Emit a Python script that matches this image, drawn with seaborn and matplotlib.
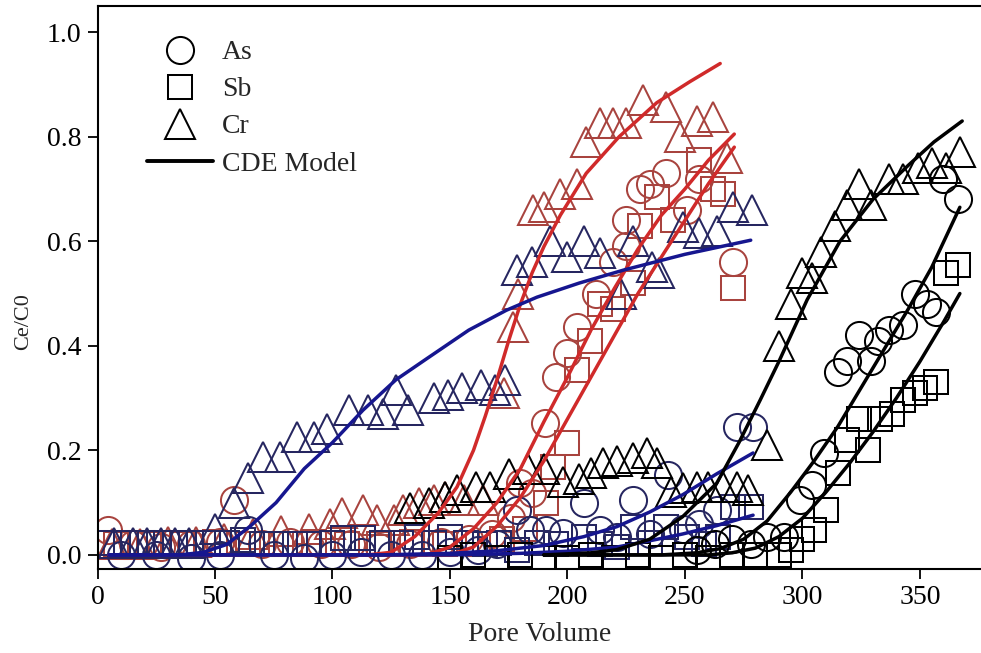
import matplotlib
matplotlib.use("Agg")
import matplotlib.pyplot as plt
import seaborn as sns
from matplotlib.lines import Line2D

# ---------------- data ----------------
# Red column (first breakthrough)
red_as_x = [4.5, 15, 27, 40, 52, 58, 70, 82, 95, 108, 120, 133, 146, 158, 168, 176, 180, 185,
            190.5, 195, 200, 204, 212, 219.5, 225, 225, 231, 235, 242, 251, 256, 270.5]
red_as_y = [0.048, 0.02, 0.015, 0.02, 0.025, 0.105, 0.02, 0.025, 0.02, 0.02, 0.015, 0.02, 0.025,
            0.03, 0.04, 0.07, 0.137, 0.118, 0.252, 0.34, 0.386, 0.436, 0.50, 0.56, 0.59, 0.64,
            0.70, 0.71, 0.73, 0.66, 0.72, 0.56]
red_sb_x = [8, 22, 36, 50, 64, 78, 92, 106, 120, 134, 148, 162, 172, 182, 191, 194, 200, 204,
            209.5, 214, 219.5, 228, 231, 238, 245, 256, 262, 266, 270.5]
red_sb_y = [0.02, 0.02, 0.02, 0.025, 0.02, 0.02, 0.025, 0.02, 0.02, 0.025, 0.02, 0.02, 0.03,
            0.05, 0.10, 0.168, 0.214, 0.354, 0.41, 0.48, 0.47, 0.52, 0.63, 0.685, 0.64, 0.755,
            0.70, 0.69, 0.51]
red_cr_x = [6, 18, 30, 42, 54, 66, 78, 90, 99, 104, 113, 119, 126, 130, 137, 143, 148, 156, 164,
            173, 177, 179, 185.5, 190, 197, 204, 208, 214, 219.5, 225, 232, 242, 248, 255, 262, 268]
red_cr_y = [0.02, 0.02, 0.025, 0.025, 0.03, 0.04, 0.045, 0.05, 0.06, 0.08, 0.085, 0.067, 0.067,
            0.086, 0.10, 0.105, 0.11, 0.105, 0.105, 0.31, 0.436, 0.50, 0.66, 0.665, 0.69, 0.71,
            0.79, 0.826, 0.826, 0.826, 0.87, 0.857, 0.80, 0.83, 0.837, 0.76]

# Blue column
blue_as_x = [10, 25, 40, 52, 64, 75, 88, 100, 112, 125, 138, 150, 162, 170, 178.5, 184, 191,
             198, 207, 214, 221, 228, 235, 243, 249, 256, 263.5, 272, 279]
blue_as_y = [0.0, 0.0, -0.005, 0.0, 0.048, 0.0, -0.005, 0.0, 0.005, 0.0, 0.0, 0.005, 0.01, 0.02,
             0.086, 0.048, 0.048, 0.042, 0.10, 0.048, 0.035, 0.105, 0.04, 0.153, 0.05, 0.06,
             0.086, 0.245, 0.245]
blue_sb_x = [5, 12, 19, 26, 33, 40, 47, 55, 62, 70, 76, 84, 90, 100, 104.5, 113, 121, 129, 136,
             143, 150, 157, 165, 171, 178.5, 187, 195, 207, 214, 221, 228, 235, 242, 251, 258,
             264, 270.5, 278]
blue_sb_y = [0.023, 0.023, 0.023, 0.023, 0.023, 0.023, 0.023, 0.023, 0.029, 0.02, 0.02, 0.02,
             0.02, 0.023, 0.032, 0.032, 0.023, 0.023, 0.035, 0.023, 0.035, 0.023, 0.02, 0.023,
             0.01, 0.023, 0.02, 0.035, 0.02, 0.015, 0.054, 0.023, 0.054, 0.035, 0.02, 0.035,
             0.092, 0.092]
blue_cr_x = [7, 15, 21, 27, 33, 39, 50, 58, 64, 70.4, 77.7, 85, 92, 97.7, 107, 115, 121.5, 127,
             132, 143, 149, 155, 163, 169, 173.5, 178.5, 185, 192.5, 200, 207, 214, 223, 228,
             236, 239, 249, 256, 263.5, 270.5, 278.5]
blue_cr_y = [0.023, 0.023, 0.023, 0.023, 0.023, 0.023, 0.05, 0.10, 0.147, 0.187, 0.187, 0.226,
             0.226, 0.24, 0.277, 0.277, 0.27, 0.315, 0.277, 0.30, 0.306, 0.32, 0.325, 0.315,
             0.335, 0.545, 0.56, 0.60, 0.57, 0.60, 0.577, 0.50, 0.60, 0.55, 0.54, 0.627, 0.615,
             0.62, 0.665, 0.66]

# Black column
black_as_x = [255, 263, 270, 278, 285, 292, 299, 304, 309, 315, 319, 324, 329, 332, 337, 343,
              348, 353, 357, 360, 366]
black_as_y = [0.01, 0.02, 0.03, 0.02, 0.035, 0.035, 0.105, 0.134, 0.195, 0.35, 0.37, 0.42, 0.37,
              0.41, 0.43, 0.44, 0.50, 0.48, 0.465, 0.72, 0.68]
black_sb_x = [150, 160, 170, 180, 190, 200, 210, 220, 230, 240, 250, 260, 270, 280, 290, 295,
              300, 305, 310, 315, 319, 324, 328, 333, 338, 343, 348, 352, 357, 361, 366]
black_sb_y = [-0.005, 0.0, -0.005, 0.0, -0.005, -0.005, 0.0, -0.005, 0.0, -0.005, 0.0, -0.005,
              0.0, 0.0, 0.0, 0.01, 0.03, 0.048, 0.086, 0.157, 0.22, 0.26, 0.20, 0.26, 0.27,
              0.296, 0.31, 0.32, 0.33, 0.54, 0.555]
black_cr_x = [133, 141, 148, 153, 161, 167, 175, 183, 190, 198, 205, 210, 215, 221, 228, 234,
              238, 244, 249, 255, 260, 266, 272, 277, 285, 290, 295, 300, 304, 308, 314, 319,
              324, 329, 337, 343, 349, 355, 361, 367]
black_cr_y = [0.09, 0.10, 0.11, 0.125, 0.13, 0.13, 0.155, 0.165, 0.165, 0.14, 0.145, 0.157,
              0.175, 0.18, 0.185, 0.195, 0.175, 0.12, 0.128, 0.13, 0.13, 0.13, 0.13, 0.124,
              0.21, 0.40, 0.48, 0.54, 0.53, 0.58, 0.63, 0.67, 0.71, 0.67, 0.72, 0.72, 0.74,
              0.75, 0.74, 0.77]

# CDE model curves
red_as_mx = [5, 120, 140, 150, 160, 170, 180, 190, 200, 210, 220, 230, 240, 250, 260, 271]
red_as_my = [0.0, 0.0, 0.0, 0.015, 0.05, 0.10, 0.165, 0.255, 0.34, 0.43, 0.51, 0.585, 0.65,
             0.70, 0.755, 0.805]
red_sb_mx = [5, 120, 150, 160, 170, 180, 190, 200, 210, 220, 230, 240, 250, 260, 271]
red_sb_my = [0.0, 0.0, 0.0, 0.015, 0.055, 0.11, 0.18, 0.26, 0.34, 0.42, 0.50, 0.57, 0.64, 0.71,
             0.78]
red_cr_mx = [5, 115, 125, 135, 145, 153, 160, 165, 170, 175, 180, 185, 190, 197, 208, 222, 238,
             252, 265]
red_cr_my = [0.0, 0.0, 0.005, 0.035, 0.08, 0.13, 0.20, 0.265, 0.335, 0.41, 0.48, 0.54, 0.59,
             0.65, 0.73, 0.80, 0.865, 0.905, 0.94]
blue_as_mx = [5, 120, 150, 170, 190, 207, 221, 235, 249, 263.5, 279]
blue_as_my = [0.0, 0.0, 0.003, 0.008, 0.018, 0.035, 0.054, 0.082, 0.115, 0.155, 0.195]
blue_sb_mx = [5, 150, 180, 200, 221, 235, 249, 263.5, 279]
blue_sb_my = [0.0, 0.0, 0.003, 0.007, 0.015, 0.027, 0.04, 0.056, 0.076]
blue_cr_mx = [5, 35, 45, 55, 65, 76, 88, 100, 113, 127, 140, 158, 174, 187, 205, 224, 250, 278]
blue_cr_my = [0.0, 0.0, 0.005, 0.02, 0.055, 0.10, 0.165, 0.215, 0.277, 0.335, 0.375, 0.43,
              0.468, 0.493, 0.52, 0.545, 0.575, 0.602]
black_as_mx = [190, 240, 255, 265, 275, 285, 295, 305, 315, 325, 335, 345, 355, 367]
black_as_my = [0.0, 0.0, 0.004, 0.012, 0.03, 0.065, 0.12, 0.18, 0.245, 0.32, 0.395, 0.47,
               0.55, 0.665]
black_sb_mx = [190, 260, 270, 280, 290, 300, 310, 320, 330, 340, 350, 360, 367]
black_sb_my = [0.0, 0.0, 0.004, 0.013, 0.035, 0.07, 0.12, 0.175, 0.235, 0.30, 0.37, 0.445, 0.50]
black_cr_mx = [190, 210, 221, 235, 249, 263.5, 273, 282, 290, 302, 316, 330, 345, 356, 368]
black_cr_my = [0.0, 0.004, 0.01, 0.03, 0.073, 0.137, 0.215, 0.296, 0.37, 0.488, 0.60, 0.68,
               0.745, 0.79, 0.83]

legend_labels = ["As", "Sb", "Cr", "CDE Model"]
x_ticks = [0, 50, 100, 150, 200, 250, 300, 350]
y_ticks = [0.0, 0.2, 0.4, 0.6, 0.8, 1.0]

# ---------------- style ----------------
sns.set_style("ticks")
plt.rcParams['font.family'] = ['Liberation Serif', 'DejaVu Serif']

RED_LINE, RED_MK = "#d02a2a", "#a8433e"
BLUE_LINE, BLUE_MK = "#16168f", "#262660"
BLACK = "#000000"
MS = {"o": 19.5, "s": 17.0, "^": 22.0}
MEW = 1.45
LW = 2.5
FS = 20

fig = plt.figure(figsize=(9.81, 6.53), dpi=100)
ax = fig.add_axes([0.0994, 0.1286, 0.9006, 0.8622])


def points(x, y, marker, color):
    sns.lineplot(x=x, y=y, ax=ax, marker=marker, linestyle='', markersize=MS[marker],
                 markerfacecolor='none', markeredgecolor=color, markeredgewidth=MEW,
                 color=color, estimator=None, sort=False, zorder=2)


def curve(x, y, color):
    sns.lineplot(x=x, y=y, ax=ax, color=color, linewidth=LW, estimator=None,
                 sort=False, zorder=3)


# markers
points(red_cr_x, red_cr_y, "^", RED_MK)
points(red_as_x, red_as_y, "o", RED_MK)
points(red_sb_x, red_sb_y, "s", RED_MK)
points(blue_cr_x, blue_cr_y, "^", BLUE_MK)
points(blue_as_x, blue_as_y, "o", BLUE_MK)
points(blue_sb_x, blue_sb_y, "s", BLUE_MK)
points(black_cr_x, black_cr_y, "^", BLACK)
points(black_as_x, black_as_y, "o", BLACK)
points(black_sb_x, black_sb_y, "s", BLACK)

# model lines
curve(red_cr_mx, red_cr_my, RED_LINE)
curve(red_as_mx, red_as_my, RED_LINE)
curve(red_sb_mx, red_sb_my, RED_LINE)
curve(blue_cr_mx, blue_cr_my, BLUE_LINE)
curve(blue_as_mx, blue_as_my, BLUE_LINE)
curve(blue_sb_mx, blue_sb_my, BLUE_LINE)
curve(black_cr_mx, black_cr_my, BLACK)
curve(black_as_mx, black_as_my, BLACK)
curve(black_sb_mx, black_sb_my, BLACK)

# axes
ax.set_xlim(0, 376)
ax.set_ylim(-0.027, 1.05)
ax.set_xticks(x_ticks)
ax.set_yticks(y_ticks)
ax.set_yticklabels([f"{v:.1f}" for v in y_ticks])
ax.tick_params(direction='out', length=7.5, width=1.3, labelsize=FS, colors='black', pad=4)
for side in ["left", "bottom", "top"]:
    ax.spines[side].set_linewidth(1.5)
    ax.spines[side].set_color('black')
    ax.spines[side].set_visible(True)
ax.spines["right"].set_visible(False)
ax.set_xlabel("Pore Volume", fontsize=FS, labelpad=9)
ax.set_ylabel("Ce/C0", fontsize=16)
ax.yaxis.set_label_coords(-0.073, 0.439)

handles = [
    Line2D([], [], marker='o', ls='', ms=MS["o"], mfc='none', mec='k', mew=MEW),
    Line2D([], [], marker='s', ls='', ms=MS["s"], mfc='none', mec='k', mew=MEW),
    Line2D([], [], marker='^', ls='', ms=MS["^"], mfc='none', mec='k', mew=MEW),
    Line2D([], [], color='k', lw=LW + 0.3),
]
ax.legend(handles, legend_labels, loc='upper left', bbox_to_anchor=(0.056, 0.94),
          frameon=False, fontsize=FS, handlelength=2.38, handletextpad=0.32,
          labelspacing=0.42, borderpad=0, borderaxespad=0)

fig.savefig("out.png", dpi=100)
